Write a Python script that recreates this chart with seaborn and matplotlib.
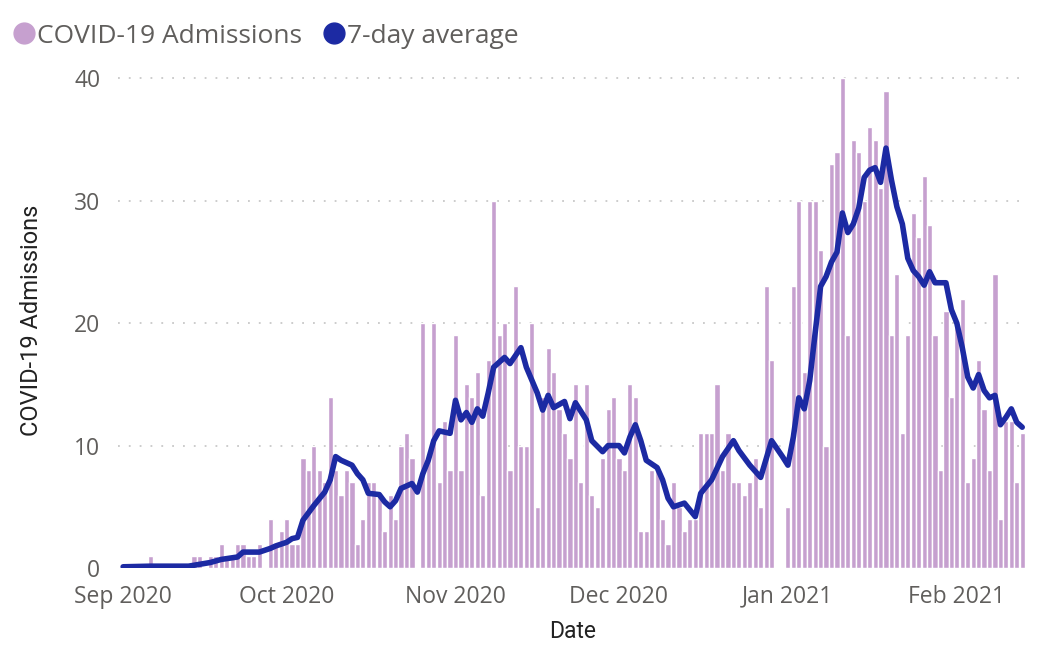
import pandas as pd
import numpy as np
import seaborn as sns
import matplotlib.pyplot as plt
import matplotlib.dates as mdates
from matplotlib.lines import Line2D

# DONNEES : admissions journalieres depuis le 1er septembre 2020 (jour 0)
debut = pd.Timestamp("2020-09-01")
admissions = [
    0, 0, 0, 0, 0, 1, 0, 0, 0, 0, 0, 0, 0, 1, 1, 0, 1, 1, 2, 1,
    1, 2, 2, 1, 1, 2, 0, 4, 2, 3, 4, 2, 2, 9, 8, 10, 8, 7, 14, 8,
    6, 8, 7, 2, 4, 7, 7, 6, 3, 6, 4, 10, 11, 9, 0, 20, 9, 20, 7, 12,
    8, 19, 8, 15, 14, 16, 6, 17, 30, 19, 20, 8, 23, 10, 10, 20, 5, 14, 18, 16,
    13, 11, 9, 15, 7, 15, 6, 5, 9, 13, 14, 9, 8, 15, 14, 3, 3, 8, 8, 4,
    2, 7, 5, 3, 4, 4, 11, 11, 11, 15, 8, 11, 7, 7, 6, 7, 9, 5, 23, 17,
    0, 0, 5, 23, 30, 16, 30, 30, 26, 10, 33, 34, 40, 19, 35, 34, 30, 36, 35, 31,
    39, 19, 24, 11, 19, 29, 27, 32, 28, 19, 8, 21, 14, 20, 22, 7, 9, 17, 13, 8,
    24, 4, 12, 12, 7, 11,
]

# MOYENNE 7 JOURS
jours_moyenne = [
    0, 5, 12, 14, 16, 18, 21, 22, 25, 27, 28, 30, 31, 32, 33, 35, 37, 38, 39, 40,
    42, 43, 44, 45, 47, 48, 49, 50, 51, 53, 54, 55, 56, 57, 58, 60, 61, 62, 63, 64,
    65, 66, 67, 68, 70, 71, 73, 74, 76, 77, 78, 79, 81, 82, 83, 84, 85, 86, 88, 89,
    91, 92, 93, 94, 95, 96, 98, 99, 100, 101, 103, 105, 106, 108, 110, 112, 113, 115, 117, 119,
    121, 122, 123, 124, 125, 126, 127, 128, 129, 130, 131, 132, 133, 134, 135, 136, 137, 138, 139, 140,
    141, 142, 143, 144, 145, 146, 147, 148, 149, 151, 152, 153, 154, 155, 156, 157, 158, 159, 160, 161,
    162, 163, 164, 165,
]
moyenne_7j = [
    0.1, 0.15, 0.15, 0.3, 0.45, 0.7, 0.9, 1.3, 1.3, 1.6, 1.8, 2.1, 2.4, 2.5, 3.9, 5.1, 6.2, 7.2, 9.1, 8.8,
    8.4, 7.7, 7.2, 6.1, 6.0, 5.4, 5.0, 5.5, 6.5, 6.9, 6.2, 7.7, 8.8, 10.4, 11.2, 11.0, 13.7, 12.1, 12.7, 11.9,
    13.0, 12.4, 14.3, 16.4, 17.2, 16.7, 18.0, 16.4, 14.3, 12.9, 14.1, 13.1, 13.6, 12.2, 13.5, 12.8, 12.1, 10.4, 9.5, 10.0,
    10.0, 9.4, 10.7, 11.7, 10.4, 8.8, 8.2, 7.2, 5.7, 5.0, 5.3, 4.2, 6.1, 7.2, 9.1, 10.4, 9.6, 8.4, 7.4, 10.4,
    9.1, 8.4, 10.7, 13.9, 13.0, 15.3, 19.2, 23.0, 23.8, 25.0, 25.8, 29.0, 27.4, 28.1, 29.4, 31.9, 32.5, 32.7, 31.5, 34.3,
    31.7, 29.5, 28.1, 25.3, 24.3, 23.8, 23.1, 24.2, 23.3, 23.3, 21.1, 20.0, 18.0, 15.6, 14.7, 15.8, 14.5, 13.9, 14.1, 11.7,
    12.3, 13.0, 11.9, 11.5,
]

couleur_barre = "#C6A0CF"
couleur_ligne = "#1C2AA3"
gris = "#605E5C"

dates_barres = debut + pd.to_timedelta(np.arange(len(admissions)), unit="D")
dates_ligne = debut + pd.to_timedelta(jours_moyenne, unit="D")
df_barres = pd.DataFrame({"x": mdates.date2num(dates_barres), "y": admissions})
df_ligne = pd.DataFrame({"x": mdates.date2num(dates_ligne), "y": moyenne_7j})

sns.set_theme(style="white")
plt.rcParams["font.family"] = ["Open Sans", "DejaVu Sans"]

fig = plt.figure(figsize=(10.37, 6.49), dpi=100)
ax = fig.add_axes([0.114, 0.1248, 0.877, 0.764])

sns.barplot(data=df_barres, x="x", y="y", native_scale=True, width=0.95,
            color=couleur_barre, saturation=1, ax=ax, zorder=2)
sns.lineplot(data=df_ligne, x="x", y="y", color=couleur_ligne, linewidth=4.0,
             ax=ax, zorder=3, solid_capstyle="round", solid_joinstyle="round")

x0 = mdates.date2num(debut)
ax.set_xlim(x0 - 0.9, x0 + 166.0)
ax.set_ylim(0, 40.5)
ax.set_yticks([0, 10, 20, 30, 40])
mois = pd.date_range("2020-09-01", "2021-02-01", freq="MS")
ax.set_xticks(mdates.date2num(mois))
ax.set_xticklabels([m.strftime("%b %Y") for m in mois])
ax.tick_params(axis="both", length=0, labelsize=16.5, labelcolor=gris)
ax.tick_params(axis="x", pad=12)
ax.tick_params(axis="y", pad=13)
for s in ax.spines.values():
    s.set_visible(False)
for v in [10, 20, 30, 40]:
    ax.axhline(v, color="#C8C8C8", linestyle=(0, (1, 5)), linewidth=1.3, zorder=1)

ax.set_xlabel("Date", fontsize=16.5, color="#222222", family=["Roboto", "DejaVu Sans"], labelpad=8)
ax.set_ylabel("COVID-19 Admissions", fontsize=17, color="#222222", family=["Roboto", "DejaVu Sans"], labelpad=22)

poignees = [
    Line2D([], [], marker="o", linestyle="", markersize=15, color=couleur_barre),
    Line2D([], [], marker="o", linestyle="", markersize=15, color=couleur_ligne),
]
fig.legend(poignees, ["COVID-19 Admissions", "7-day average"], loc="upper left",
           bbox_to_anchor=(-0.02, 0.992), ncol=2, frameon=False, fontsize=19,
           labelcolor=gris, handletextpad=-0.5, columnspacing=0.2, borderaxespad=0.3)

fig.savefig("out.png", dpi=100)
